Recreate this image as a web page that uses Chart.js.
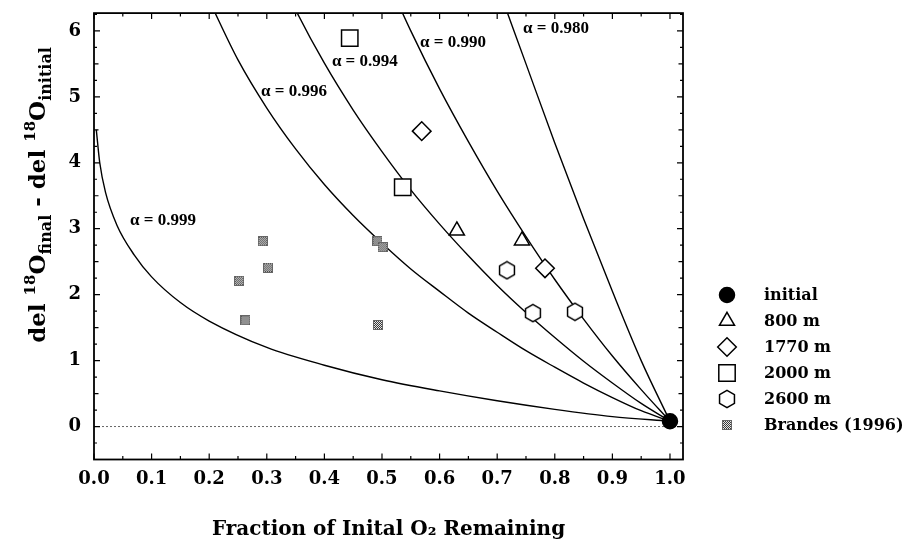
<!DOCTYPE html>
<html><head><meta charset="utf-8">
<script src="https://cdn.jsdelivr.net/npm/chart.js@4.4.1/dist/chart.umd.min.js"></script>
<style>html,body{margin:0;padding:0;background:#fff}canvas{display:block}</style>
</head><body>
<canvas id="c" width="905" height="544"></canvas>
<script>
// ---------- data ----------
const xTicks = [0.0, 0.1, 0.2, 0.3, 0.4, 0.5, 0.6, 0.7, 0.8, 0.9, 1.0];
const yTicks = [0, 1, 2, 3, 4, 5, 6];

const curve999X = [0.004, 0.01, 0.02, 0.04, 0.07, 0.1, 0.15, 0.2, 0.3, 0.4, 0.5, 0.6, 0.7, 0.8, 0.9, 1.0];
const curve999Y = [4.5, 4.0, 3.55, 3.05, 2.6, 2.27, 1.88, 1.6, 1.2, 0.93, 0.71, 0.54, 0.39, 0.26, 0.15, 0.08];

const curve996X = [0.2, 0.25, 0.3, 0.35, 0.4, 0.45, 0.5, 0.55, 0.6, 0.65, 0.7, 0.75, 0.8, 0.85, 0.9, 0.95, 1.0];
const curve996Y = [6.46, 5.56, 4.83, 4.21, 3.67, 3.20, 2.78, 2.39, 2.05, 1.72, 1.43, 1.15, 0.9, 0.66, 0.44, 0.24, 0.08];

const curve994X = [0.3, 0.35, 0.4, 0.45, 0.5, 0.55, 0.6, 0.65, 0.7, 0.75, 0.8, 0.85, 0.9, 0.95, 1.0];
const curve994Y = [7.25, 6.32, 5.51, 4.80, 4.17, 3.59, 3.07, 2.59, 2.14, 1.73, 1.35, 0.99, 0.66, 0.35, 0.08];

const curve990X = [0.5, 0.55, 0.6, 0.65, 0.7, 0.75, 0.8, 0.85, 0.9, 0.95, 1.0];
const curve990Y = [6.96, 6.00, 5.12, 4.32, 3.57, 2.88, 2.23, 1.63, 1.07, 0.56, 0.08];

const curve980X = [0.7, 0.75, 0.8, 0.85, 0.9, 0.95, 1.0];
const curve980Y = [6.7, 5.5, 4.3, 3.15, 2.05, 1.0, 0.08];

const zeroLineX = [0.0, 1.0];
const zeroLineY = [0, 0];

const initialX = [1.0];
const initialY = [0.08];
const m800X = [0.63, 0.743];
const m800Y = [2.97, 2.82];
const m1770X = [0.569, 0.783];
const m1770Y = [4.48, 2.40];
const m2000X = [0.444, 0.536];
const m2000Y = [5.89, 3.63];
const m2600X = [0.717, 0.762, 0.835];
const m2600Y = [2.37, 1.72, 1.74];
const brandesX = [0.252, 0.263, 0.293, 0.302, 0.492, 0.501, 0.493];
const brandesY = [2.21, 1.61, 2.81, 2.41, 2.81, 2.72, 1.54];

const alphaText = ['α = 0.999', 'α = 0.996', 'α = 0.994', 'α = 0.990', 'α = 0.980'];
const alphaX = [0.0625, 0.29, 0.413, 0.566, 0.745];
const alphaY = [3.12, 5.08, 5.53, 5.83, 6.04];

const seriesNames = ['initial', '800 m', '1770 m', '2000 m', '2600 m', 'Brandes (1996)'];

const xTitle = 'Fraction of Inital O\u2082 Remaining';
const yTitleParts = [['del ', 'm'], ['18', 'sup'], ['O', 'm'], ['final', 'sub'], [' - del ', 'm'], ['18', 'sup'], ['O', 'm'], ['initial', 'sub']];

// ---------- helpers ----------
const pts = (xs, ys) => xs.map((v, i) => ({x: v, y: ys[i]}));
const SERIF = "'DejaVu Serif', 'Liberation Serif', serif";

function makeHex() {
  const c = document.createElement('canvas'); c.width = 20; c.height = 20;
  const g = c.getContext('2d');
  g.beginPath();
  for (let k = 0; k < 6; k++) {
    const a = -Math.PI / 2 + k * Math.PI / 3;
    const px = 10 + 8.6 * Math.cos(a), py = 10 + 8.6 * Math.sin(a);
    k ? g.lineTo(px, py) : g.moveTo(px, py);
  }
  g.closePath(); g.fillStyle = '#fff'; g.fill();
  g.lineWidth = 1.5; g.strokeStyle = '#000'; g.stroke();
  return c;
}
function makeStipple() {
  const c = document.createElement('canvas'); c.width = 10; c.height = 10;
  const g = c.getContext('2d');
  g.fillStyle = '#e6e6e6'; g.fillRect(0, 0, 10, 10);
  g.fillStyle = '#3a3a3a';
  for (let i = 0; i < 10; i++) for (let j = 0; j < 10; j++) {
    if ((i + j) % 2 === 0) g.fillRect(i, j, 1, 1);
  }
  g.strokeStyle = '#666'; g.lineWidth = 1; g.strokeRect(0.5, 0.5, 9, 9);
  return c;
}
const hexImg = makeHex();
const stippleImg = makeStipple();

const curveStyle = {showLine: true, borderColor: '#000', borderWidth: 1.4, pointRadius: 0, cubicInterpolationMode: 'monotone', fill: false};
const markStyle = {showLine: false, backgroundColor: '#fff', borderColor: '#000', borderWidth: 1.5};

const datasets = [
  Object.assign({label: seriesNames[0], data: pts(initialX, initialY), pointStyle: 'circle', pointRadius: 7.5}, markStyle, {backgroundColor: '#000'}),
  Object.assign({label: seriesNames[1], data: pts(m800X, m800Y), pointStyle: 'triangle', pointRadius: 8.7}, markStyle),
  Object.assign({label: seriesNames[2], data: pts(m1770X, m1770Y), pointStyle: 'rectRot', pointRadius: 9.3}, markStyle),
  Object.assign({label: seriesNames[3], data: pts(m2000X, m2000Y), pointStyle: 'rect', pointRadius: 11.6}, markStyle),
  Object.assign({label: seriesNames[4], data: pts(m2600X, m2600Y), pointStyle: hexImg, pointRadius: 9}, markStyle),
  Object.assign({label: seriesNames[5], data: pts(brandesX, brandesY), pointStyle: stippleImg, pointRadius: 5}, markStyle),
  Object.assign({label: 'a0.999', data: pts(curve999X, curve999Y)}, curveStyle),
  Object.assign({label: 'a0.996', data: pts(curve996X, curve996Y)}, curveStyle),
  Object.assign({label: 'a0.994', data: pts(curve994X, curve994Y)}, curveStyle),
  Object.assign({label: 'a0.990', data: pts(curve990X, curve990Y)}, curveStyle),
  Object.assign({label: 'a0.980', data: pts(curve980X, curve980Y)}, curveStyle),
  {label: 'zero', data: pts(zeroLineX, zeroLineY), showLine: true, borderColor: '#666', borderWidth: 1, borderDash: [2, 2], pointRadius: 0}
];

function drawMarker(ctx, ds, x, y) {
  const st = ds.pointStyle, r = ds.pointRadius;
  ctx.save();
  if (typeof st === 'object') { ctx.drawImage(st, Math.round(x - st.width / 2), Math.round(y - st.height / 2)); ctx.restore(); return; }
  ctx.fillStyle = ds.backgroundColor; ctx.strokeStyle = ds.borderColor; ctx.lineWidth = ds.borderWidth;
  ctx.beginPath();
  if (st === 'circle') ctx.arc(x, y, r, 0, Math.PI * 2);
  else if (st === 'triangle') { ctx.moveTo(x, y - r); ctx.lineTo(x + 0.866 * r, y + 0.5 * r); ctx.lineTo(x - 0.866 * r, y + 0.5 * r); ctx.closePath(); }
  else if (st === 'rectRot') { ctx.moveTo(x - r, y); ctx.lineTo(x, y - r); ctx.lineTo(x + r, y); ctx.lineTo(x, y + r); ctx.closePath(); }
  else if (st === 'rect') { const s = r * Math.SQRT1_2; ctx.rect(x - s, y - s, 2 * s, 2 * s); }
  ctx.fill(); ctx.stroke();
  ctx.restore();
}

const decorPlugin = {
  id: 'decor',
  afterDraw(chart) {
    const {ctx, chartArea: a, scales: {x, y}} = chart;
    ctx.save();
    // inward ticks on all four sides
    ctx.strokeStyle = '#000'; ctx.lineWidth = 1.2;
    ctx.beginPath();
    for (let i = 0; i <= 20; i++) {
      const px = x.getPixelForValue(i * 0.05);
      const len = i % 2 === 0 ? 6 : 3.5;
      ctx.moveTo(px, a.bottom); ctx.lineTo(px, a.bottom - len);
      ctx.moveTo(px, a.top); ctx.lineTo(px, a.top + len);
    }
    for (let i = -2; i <= 25; i++) {
      const py = y.getPixelForValue(i * 0.25);
      const len = i % 4 === 0 ? 6 : (i % 2 === 0 ? 4.5 : 3);
      ctx.moveTo(a.left, py); ctx.lineTo(a.left + len, py);
      ctx.moveTo(a.right, py); ctx.lineTo(a.right - len, py);
    }
    ctx.stroke();
    ctx.lineWidth = 1.8;
    ctx.strokeRect(a.left, a.top, a.right - a.left, a.bottom - a.top);

    // alpha labels
    ctx.fillStyle = '#000';
    ctx.font = "bold 17px 'Liberation Serif', serif";
    ctx.textBaseline = 'middle'; ctx.textAlign = 'left';
    alphaText.forEach((t, i) => ctx.fillText(t, x.getPixelForValue(alphaX[i]), y.getPixelForValue(alphaY[i])));

    // legend
    const lx = 727, tx = 764, ly0 = 295, dy = 26;
    ctx.font = 'bold 16px ' + SERIF;
    seriesNames.forEach((name, i) => {
      const yy = ly0 + i * dy;
      drawMarker(ctx, chart.data.datasets[i], lx, yy);
      ctx.fillStyle = '#000';
      ctx.fillText(name, tx, yy + 1);
    });

    // y title with super/subscripts
    const fonts = {m: 'bold 23px ' + SERIF, sup: 'bold 15px ' + SERIF, sub: 'bold 16px ' + SERIF};
    const shift = {m: 0, sup: -10, sub: 6};
    let total = 0;
    const widths = yTitleParts.map(([t, k]) => { ctx.font = fonts[k]; const w = ctx.measureText(t).width; total += w; return w; });
    ctx.translate(45, 195);
    ctx.rotate(-Math.PI / 2);
    ctx.textBaseline = 'alphabetic'; ctx.textAlign = 'left';
    let cx = -total / 2;
    yTitleParts.forEach(([t, k], i) => { ctx.font = fonts[k]; ctx.fillText(t, cx, shift[k]); cx += widths[i]; });
    ctx.restore();
  }
};

Chart.defaults.font.family = SERIF;
Chart.defaults.color = '#000';

new Chart(document.getElementById('c'), {
  type: 'scatter',
  data: {datasets},
  options: {
    responsive: false, animation: false, devicePixelRatio: 1,
    layout: {padding: {top: 8, right: 222, left: 0, bottom: 0}},
    plugins: {legend: {display: false}, tooltip: {enabled: false}},
    events: [],
    scales: {
      x: {
        type: 'linear', min: 0, max: 1.0226,
        grid: {display: false, drawTicks: false}, border: {display: false},
        afterBuildTicks: s => { s.ticks = xTicks.map(v => ({value: v})); },
        afterFit: s => { s.height = 84.5; s.paddingLeft = 0; s.paddingRight = 0; },
        ticks: {font: {size: 18, weight: 'bold'}, padding: 9, callback: v => Number(v).toFixed(1), maxRotation: 0, autoSkip: false},
        title: {display: true, text: xTitle, font: {size: 20, weight: 'bold'}, padding: {top: 4, bottom: 2}}
      },
      y: {
        type: 'linear', min: -0.5, max: 6.27,
        grid: {display: false, drawTicks: false}, border: {display: false},
        afterBuildTicks: s => { s.ticks = yTicks.map(v => ({value: v})); },
        afterFit: s => { s.width = 94; s.paddingTop = 0; s.paddingBottom = 0; },
        ticks: {font: {size: 18, weight: 'bold'}, padding: 13, callback: v => String(v), autoSkip: false}
      }
    }
  },
  plugins: [decorPlugin]
});
</script>
</body></html>
